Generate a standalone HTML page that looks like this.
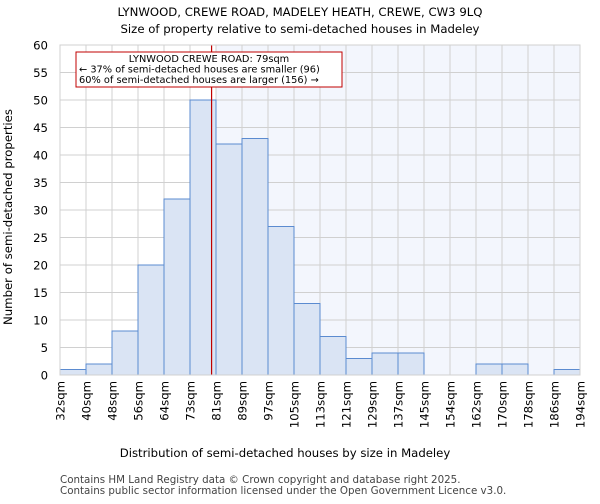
<!DOCTYPE html>
<html><head><meta charset="utf-8"><style>
body{margin:0;background:#fff;font-family:"DejaVu Sans","Liberation Sans",sans-serif}
</style></head><body>
<svg id="c" width="600" height="500" xmlns="http://www.w3.org/2000/svg" font-family="DejaVu Sans, Liberation Sans, sans-serif">
<text x="300" y="16" text-anchor="middle" font-size="11.7">LYNWOOD, CREWE ROAD, MADELEY HEATH, CREWE, CW3 9LQ</text>
<text x="300" y="33" text-anchor="middle" font-size="11.7">Size of property relative to semi-detached houses in Madeley</text>
<g id="plot"></g>
<text x="285" y="457" text-anchor="middle" font-size="11.7">Distribution of semi-detached houses by size in Madeley</text>
<text transform="translate(12,217) rotate(-90)" text-anchor="middle" font-size="11.7">Number of semi-detached properties</text>
<text x="60" y="483" font-size="10.3" fill="#444">Contains HM Land Registry data © Crown copyright and database right 2025.</text>
<text x="60" y="494" font-size="10.3" fill="#444">Contains public sector information licensed under the Open Government Licence v3.0.</text>
</svg>
<script>
const categories=["32sqm","40sqm","48sqm","56sqm","64sqm","73sqm","81sqm","89sqm","97sqm","105sqm","113sqm","121sqm","129sqm","137sqm","145sqm","154sqm","162sqm","170sqm","178sqm","186sqm","194sqm"];
const counts=[1,2,8,20,32,50,42,43,27,13,7,3,4,4,0,0,2,2,0,1];
const yTicks=[0,5,10,15,20,25,30,35,40,45,50,55,60];
const markerBin=5.83;
const annotationLines=["LYNWOOD CREWE ROAD: 79sqm","← 37% of semi-detached houses are smaller (96)","60% of semi-detached houses are larger (156) →"];
const L=60,R=580,T=45,B=375,NS="http://www.w3.org/2000/svg";
const nb=counts.length,bw=(R-L)/nb;
const x=i=>L+i*bw, y=v=>B-(v/60)*(B-T);
const g=document.getElementById('plot');
function el(t,a,p){const e=document.createElementNS(NS,t);for(const k in a)e.setAttribute(k,a[k]);(p||g).appendChild(e);return e;}
const sh=el('rect',{x:x(Math.ceil(markerBin)),y:T,width:R-x(Math.ceil(markerBin)),height:B-T,fill:'#f3f6fd'});


for(let i=0;i<=nb;i++){const l=el('line',{x1:x(i),x2:x(i),y1:T,y2:B,stroke:'#d0d0d0'});

}
yTicks.forEach(v=>{const l=el('line',{x1:L,x2:R,y1:y(v),y2:y(v),stroke:'#d0d0d0'});


const t=el('text',{x:L-12,y:y(v)+4.5,'text-anchor':'end','font-size':'11.7'});t.textContent=v;

});
counts.forEach((c,i)=>{if(c<=0)return;const r=el('rect',{x:x(i),y:y(c),width:bw,height:B-y(c),fill:'#dae4f4',stroke:'#5b8bd0','stroke-width':1});

});
categories.forEach((c,i)=>{const t=el('text',{transform:`translate(${x(i)+4.5},381) rotate(-90)`,'text-anchor':'end','font-size':'11.7'});t.textContent=c;

});
const ml=el('line',{x1:x(markerBin),x2:x(markerBin),y1:T,y2:B,stroke:'#c00000','stroke-width':1.2});


const bx=el('rect',{x:76,y:52,width:266,height:35,fill:'#fff',stroke:'#c00000','stroke-width':1});


annotationLines.forEach((s,i)=>{const t=el('text',{x:i==0?209:79,y:62+i*10.5,'text-anchor':i==0?'middle':'start','font-size':'9.8'});t.textContent=s;

});
const ax=el('rect',{x:L,y:T,width:R-L,height:B-T,fill:'none',stroke:'#d0d0d0'});


</script>
</body></html>
